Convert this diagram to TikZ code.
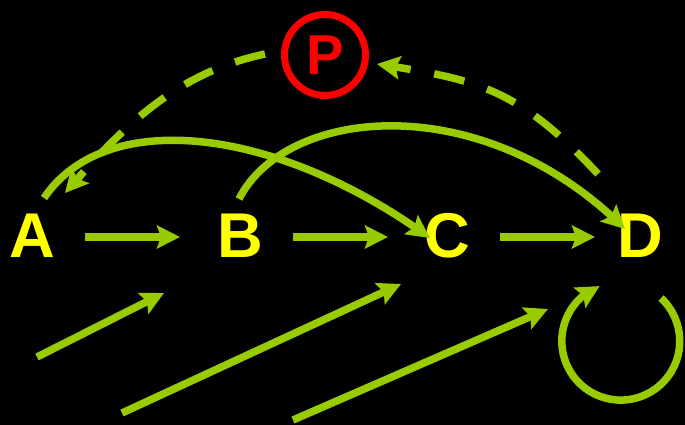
\documentclass[tikz,border=0pt]{standalone}
\usepackage{fontspec}
\setmainfont{Liberation Sans}
\usepackage{xcolor}
\definecolor{green1}{HTML}{99CC00}
\definecolor{yellow1}{HTML}{FFFF00}
\definecolor{red1}{HTML}{FF0000}
\usepackage{tikz}
\usetikzlibrary{arrows.meta,bending,calc}

\begin{document}
\begin{tikzpicture}[
  x=0.02cm, y=0.02cm,
  letter/.style={font=\fontsize{36}{40}\selectfont\bfseries,text=yellow1,inner sep=0pt},
  arrow/.style={-{Stealth[length=0.46cm,width=0.46cm,inset=0.08cm]},
                line width=0.15cm,green1},
  dasharrow/.style={arrow,dash pattern=on 0.62cm off 0.48cm},
  ring/.style={circle,draw=red1,line width=0.14cm,minimum size=1.62cm,inner sep=0pt,
               font=\fontsize{32}{36}\selectfont\bfseries,text=red1},
]
  \fill[black] (0,0) rectangle (685,425);
  \useasboundingbox (0,0) rectangle (685,425);

  \node[letter] (A) at (32,189)  {A};
  \node[letter] (B) at (240,189) {B};
  \node[letter] (C) at (447,189) {C};
  \node[letter] (D) at (640,189) {D};
  \node[ring]   (P) at (325,370) {P};

  % chain
  \draw[arrow] ($(A)+(53,-1)$) -- ($(B)+(-60,-1)$);
  \draw[arrow] ($(B)+(53,-1)$) -- ($(C)+(-59,-1)$);
  \draw[arrow] ($(C)+(53,-1)$) -- ($(D)+(-45,-1)$);

  % skips over the top
  \draw[arrow] ($(A)+(12,38)$) .. controls +(56:110) and +(144:190) .. ($(C)+(-17,-2)$);
  \draw[arrow] ($(B)+(-1,37)$) .. controls +(63:105) and +(135:200) .. ($(D)+(-15,7)$);

  % feedback through P
  \draw[dasharrow] ($(D)+(-42,62)$) .. controls +(133:120) and +(-9:100) .. ($(P)+(52,-9)$);
  \draw[dasharrow] ($(P)+(-60,1)$) .. controls +(192:90) and +(49:90) .. ($(A)+(33,43)$);

  % self loop
  \draw[arrow] ($(D)+(21,-62)$) arc[start angle=47,end angle=-249,radius=1.18cm];

  % inputs
  \coordinate (in1) at (37,68);
  \coordinate (in2) at (122,12);
  \coordinate (in3) at (293,5);
  \draw[arrow] (in1) -- ($(B)+(-76,-57)$);
  \draw[arrow] (in2) -- ($(C)+(-46,-48)$);
  \draw[arrow] (in3) -- ($(D)+(-92,-73)$);
\end{tikzpicture}
\end{document}
